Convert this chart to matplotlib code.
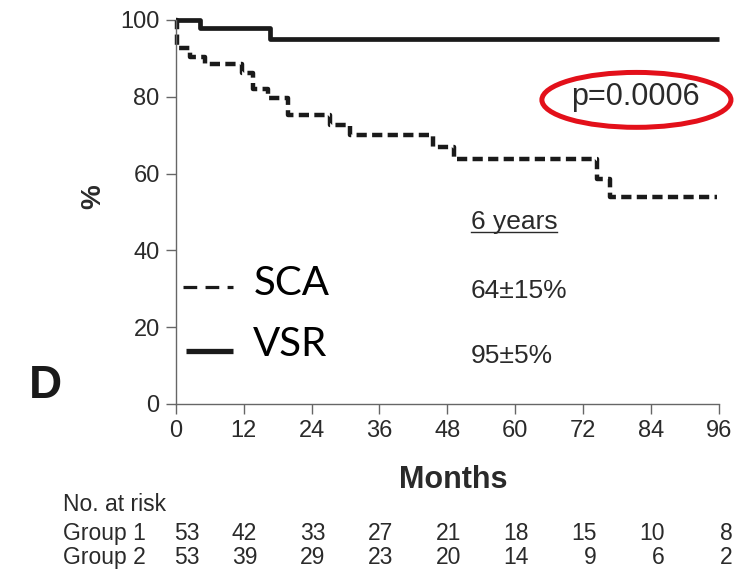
import matplotlib
matplotlib.use("Agg")
import matplotlib.pyplot as plt
from matplotlib.lines import Line2D
from matplotlib.patches import Ellipse
from matplotlib.transforms import blended_transform_factory

# ---------------- data ----------------
vsr_months = [0, 4.3, 16.7, 96]
vsr_surv = [100, 98, 95, 95]

sca_months = [0, 0.3, 2.5, 5.2, 11.7, 13.7, 16.3, 19.9, 27.3, 30.8, 45.5, 49.1, 74.4, 76.8, 95.6]
sca_surv = [100, 92.6, 90.4, 88.5, 86.3, 82.0, 79.6, 75.2, 72.6, 70.0, 67.0, 63.7, 58.7, 53.8, 53.8]

x_ticks = [0, 12, 24, 36, 48, 60, 72, 84, 96]
y_ticks = [0, 20, 40, 60, 80, 100]

risk_group1 = [53, 42, 33, 27, 21, 18, 15, 10, 8]
risk_group2 = [53, 39, 29, 23, 20, 14, 9, 6, 2]

p_text = "p=0.0006"
year_label = "6 years"
sca_rate = "64\u00b115%"
vsr_rate = "95\u00b15%"

# ---------------- figure ----------------
plt.rcParams['font.family'] = ['Liberation Sans', 'DejaVu Sans']
W, H = 747, 573
fig = plt.figure(figsize=(W / 100, H / 100), dpi=100)
ax = fig.add_axes([175.7 / W, 1 - 404 / H, (719 - 175.7) / W, (404 - 20) / H])

ink = '#1a1a1a'
txt = '#2a2a2a'
spine_c = '#666666'

ax.step(vsr_months, vsr_surv, where='post', color=ink, lw=3.4, clip_on=False,
        solid_capstyle='butt')
ax.step(sca_months, sca_surv, where='post', color=ink, lw=3.2, clip_on=False,
        linestyle=(0, (2.3, 1.2)), dash_capstyle='butt')

ax.set_xlim(0, 96)
ax.set_ylim(0, 100)
ax.set_xticks(x_ticks)
ax.set_yticks(y_ticks)
ax.tick_params(axis='both', direction='out', length=7.5, width=1.0, color=spine_c,
               labelsize=17, labelcolor=txt, pad=4)
for s in ['top', 'right']:
    ax.spines[s].set_visible(False)
for s in ['left', 'bottom']:
    ax.spines[s].set_color(spine_c)
    ax.spines[s].set_linewidth(1.0)

# axis labels
ax.text(-0.152, 0.539, '%', transform=ax.transAxes, rotation=90, ha='center', va='center',
        fontsize=20, fontweight='bold', color=txt)
ax.text(0.510, -0.198, 'Months', transform=ax.transAxes, ha='center', va='center',
        fontsize=22, fontweight='bold', color=txt)
ax.text(-0.239, 0.047, 'D', transform=ax.transAxes, ha='center', va='center',
        fontsize=33, fontweight='bold', color=ink)

# legend (manual)
ax.add_line(Line2D([0.013, 0.106], [0.3055, 0.3055], transform=ax.transAxes, color=ink,
                   lw=2.3, linestyle=(0, (4.3, 2.6)), clip_on=False))
ax.add_line(Line2D([0.0185, 0.106], [0.138, 0.138], transform=ax.transAxes, color=ink,
                   lw=3.8, clip_on=False, solid_capstyle='butt'))
ax.text(0.1428, 0.313, 'SCA', transform=ax.transAxes, ha='left', va='center',
        fontsize=29, family=['Lato', 'DejaVu Sans'], color='black')
ax.text(0.1428, 0.156, 'VSR', transform=ax.transAxes, ha='left', va='center',
        fontsize=29, family=['Lato', 'DejaVu Sans'], color='black')

# p-value with red ellipse
ax.text(0.847, 0.799, p_text, transform=ax.transAxes, ha='center', va='center',
        fontsize=22, color=txt)
ax.add_patch(Ellipse((0.848, 0.792), 0.348, 0.143, transform=ax.transAxes, fill=False,
                     edgecolor='#e3101a', lw=3.6, clip_on=False))

# survival rates
t6 = ax.text(0.543, 0.456, year_label, transform=ax.transAxes, ha='left', va='baseline',
             fontsize=19, color=txt)
ax.text(0.543, 0.275, sca_rate, transform=ax.transAxes, ha='left', va='baseline',
        fontsize=19, color=txt)
ax.text(0.543, 0.106, vsr_rate, transform=ax.transAxes, ha='left', va='baseline',
        fontsize=19, color=txt)

# number at risk table
bt = blended_transform_factory(ax.transData, ax.transAxes)
ax.text(-0.208, -0.263, 'No. at risk', transform=ax.transAxes, ha='left', va='center',
        fontsize=16.5, color=txt)
ax.text(-0.208, -0.336, 'Group 1', transform=ax.transAxes, ha='left', va='center',
        fontsize=16.5, color=txt)
ax.text(-0.208, -0.401, 'Group 2', transform=ax.transAxes, ha='left', va='center',
        fontsize=16.5, color=txt)
for i, xt in enumerate(x_ticks):
    off = 4.2 if i == 0 else 2.4
    ax.text(xt + off, -0.336, str(risk_group1[i]), transform=bt, ha='right', va='center',
            fontsize=16.5, color=txt, clip_on=False)
    ax.text(xt + off, -0.401, str(risk_group2[i]), transform=bt, ha='right', va='center',
            fontsize=16.5, color=txt, clip_on=False)

# underline "6 years"
fig.canvas.draw()
bb = t6.get_window_extent()
inv = fig.transFigure.inverted()
(x0, _), (x1, _) = inv.transform([(bb.x0, 0), (bb.x1, 0)])
yl = 1 - 232 / H
fig.add_artist(Line2D([x0, x1], [yl, yl], transform=fig.transFigure, color=txt, lw=1.0))

fig.savefig('out.png', dpi=100)
